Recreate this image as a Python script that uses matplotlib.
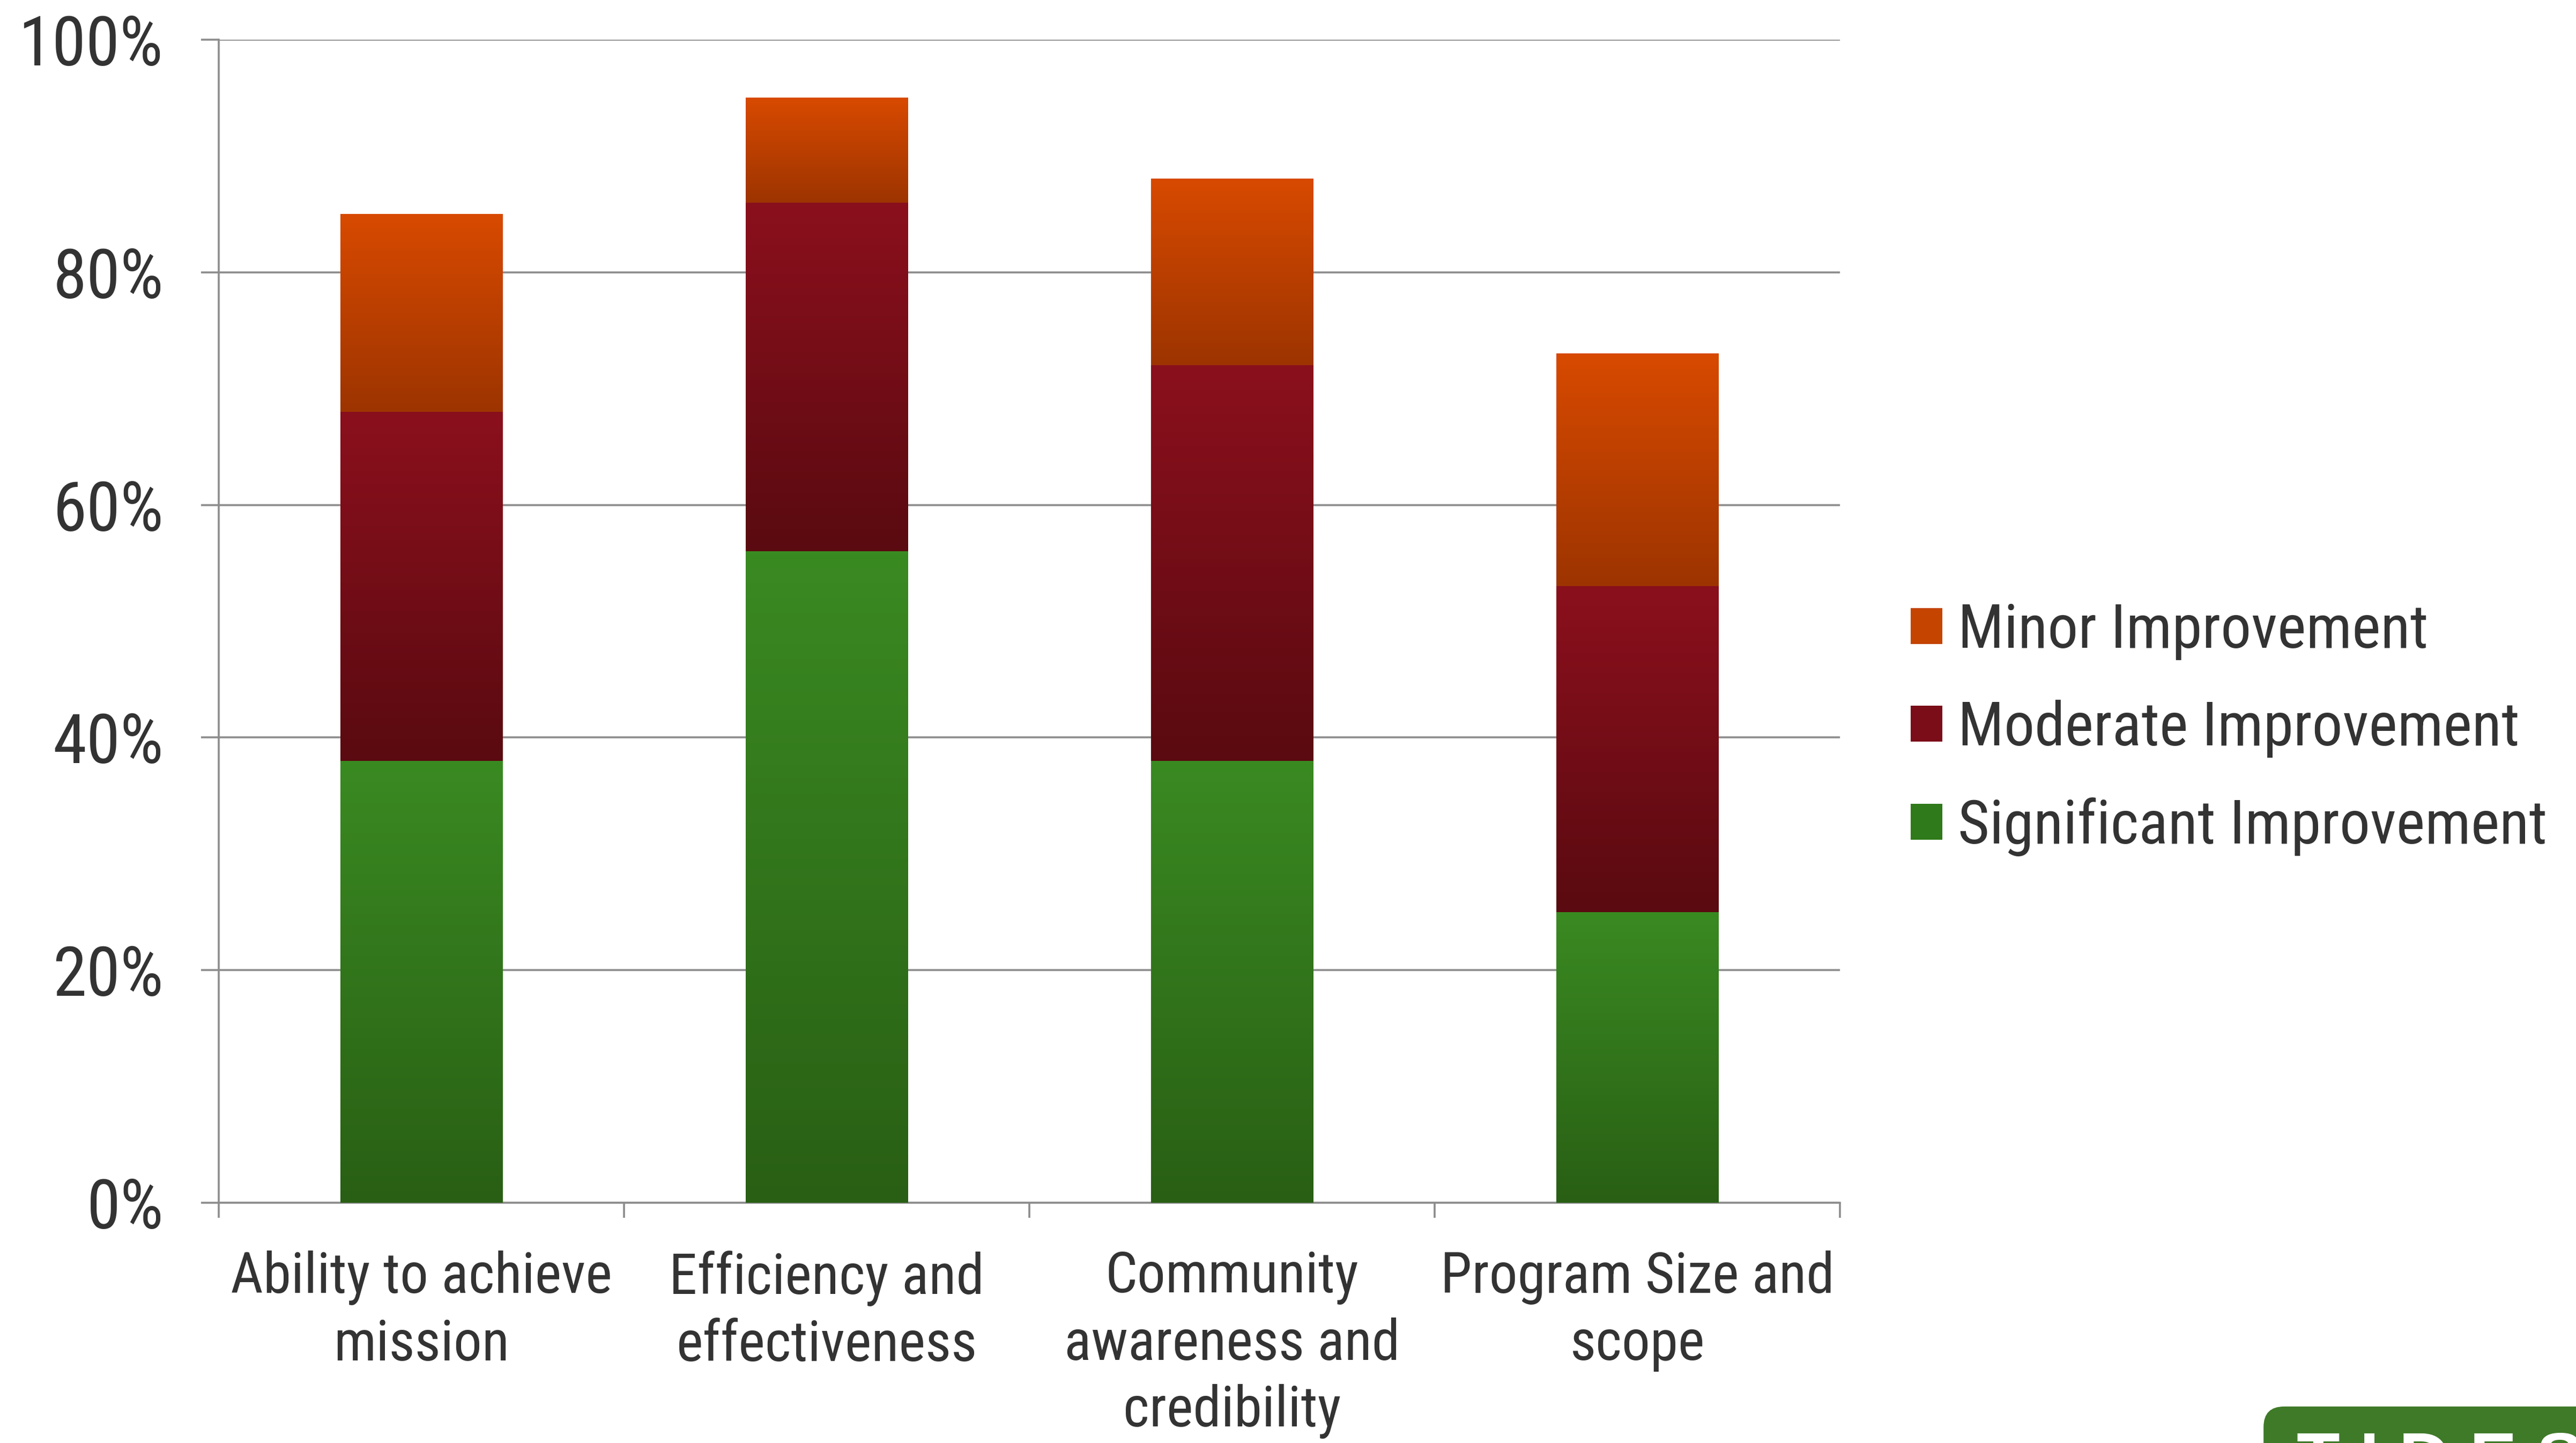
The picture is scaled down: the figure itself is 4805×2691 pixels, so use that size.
##   Stacked bar chart: improvement by area   ##
import numpy as np
import matplotlib
matplotlib.use('Agg')
import matplotlib.pyplot as plt
from matplotlib import font_manager
from matplotlib.font_manager import FontProperties
from matplotlib.colors import LinearSegmentedColormap
from matplotlib.patches import FancyBboxPatch, Patch
from matplotlib.ticker import FixedLocator, PercentFormatter

## data ##
categories = ['Ability to achieve\nmission', 'Efficiency and\neffectiveness',
              'Community\nawareness and\ncredibility', 'Program Size and\nscope']
significant = [38, 56, 38, 25]
moderate = [30, 30, 34, 28]
minor = [17, 9, 16, 20]
series_names = ['Significant Improvement', 'Moderate Improvement', 'Minor Improvement']

# (top colour, bottom colour) for the gradient of each series
grad_colors = [('#3a8a22', '#295f14'), ('#8b101d', '#5a0a10'), ('#d84a00', '#9d3400')]
legend_colors = ['#2f7a1a', '#7a0d18', '#c44400']

TXT = '#333333'
GRID = '#8c8c8c'


## fonte estreita (tipo Arial Narrow) se houver ##
def narrow_font():
    cands = []
    for e in font_manager.fontManager.ttflist:
        is_narrow = ('Narrow' in e.name or 'Condensed' in e.name
                     or e.stretch in ('condensed', 'semi-condensed')
                     or 'Condensed' in e.fname or 'Narrow' in e.fname)
        if not is_narrow or e.style != 'normal':
            continue
        if e.weight not in (400, 'normal', 'regular', 'book'):
            continue
        if 'Bold' in e.fname or 'Light' in e.fname or 'Oblique' in e.fname:
            continue
        rank = 9
        for i, key in enumerate(['Liberation', 'Arial', 'Roboto', 'Open', 'DejaVu']):
            if key in e.name or key in e.fname:
                rank = i
                break
        cands.append((rank, e.fname))
    if cands:
        cands.sort()
        return FontProperties(fname=cands[0][1]), 1.0
    return FontProperties(family=['Liberation Sans', 'DejaVu Sans']), 0.9


fp, k = narrow_font()
YTICK_FS = 92 * k
XTICK_FS = 76 * k
LEG_FS = 82 * k

fig = plt.figure(figsize=(48.05, 26.91), dpi=100, facecolor='white')
ax = fig.add_axes([0.0849, 0.1665, 0.7143 - 0.0849, 0.9725 - 0.1665])

x = np.arange(len(categories))
bottom = np.zeros(len(categories))
for vals, (ctop, cbot) in zip([significant, moderate, minor], grad_colors):
    bars = ax.bar(x, vals, width=0.40, bottom=bottom, color=cbot, zorder=3, linewidth=0)
    cmap = LinearSegmentedColormap.from_list('g', [cbot, ctop])
    grad = np.linspace(0, 1, 256).reshape(-1, 1)
    for b in bars:
        bx, by, bw, bh = b.get_x(), b.get_y(), b.get_width(), b.get_height()
        ax.imshow(grad, cmap=cmap, extent=[bx, bx + bw, by, by + bh], origin='lower',
                  aspect='auto', zorder=3.5, interpolation='bicubic')
    bottom += np.array(vals)

ax.set_xlim(-0.5, 3.5)
ax.set_ylim(0, 100)
ax.set_aspect('auto')

## eixos ##
ax.yaxis.set_major_locator(FixedLocator([0, 20, 40, 60, 80, 100]))
ax.yaxis.set_major_formatter(PercentFormatter(decimals=0))
ax.grid(axis='y', color=GRID, linewidth=2.6, zorder=1)
ax.set_axisbelow(True)
for s in ['top', 'right']:
    ax.spines[s].set_visible(False)
for s in ['left', 'bottom']:
    ax.spines[s].set_color(GRID)
    ax.spines[s].set_linewidth(2.6)
ax.tick_params(axis='y', length=24, width=2.6, color=GRID, pad=50, labelcolor=TXT)
for lbl in ax.get_yticklabels():
    lbl.set_fontproperties(fp)
    lbl.set_fontsize(YTICK_FS)
ax.set_xticks(x)
ax.set_xticklabels(categories, linespacing=1.3)
ax.set_xticks([-0.5, 0.5, 1.5, 2.5, 3.5], minor=True)
ax.tick_params(axis='x', which='major', length=0, pad=64, labelcolor=TXT)
ax.tick_params(axis='x', which='minor', length=20, width=2.6, color=GRID)
for lbl in ax.get_xticklabels():
    lbl.set_fontproperties(fp)
    lbl.set_fontsize(XTICK_FS)
    lbl.set_verticalalignment('top')

## legenda ##
handles = [Patch(facecolor=c) for c in legend_colors]
lp = fp.copy()
lp.set_size(LEG_FS)
fig.legend(handles[::-1], series_names[::-1], loc='center left',
           bbox_to_anchor=(0.7417, 0.4946), frameon=False, borderpad=0, borderaxespad=0,
           handlelength=0.52, handleheight=0.53, handletextpad=0.25,
           labelspacing=0.65, prop=lp, labelcolor=TXT)

## logo ##
logo = FancyBboxPatch((0.8787, -0.05), 0.2, 0.0753, transform=fig.transFigure,
                      boxstyle='round,pad=0,rounding_size=0.008',
                      facecolor='#3f7a28', edgecolor='none', mutation_aspect=4805 / 2691)
fig.patches.append(logo)
fig.text(0.8915, 0.0085, 'T I D E S', color='white', fontsize=95, fontweight='bold',
         va='top', ha='left', family=['Liberation Sans', 'DejaVu Sans'])

fig.savefig('out.png', dpi=100, facecolor='white')
